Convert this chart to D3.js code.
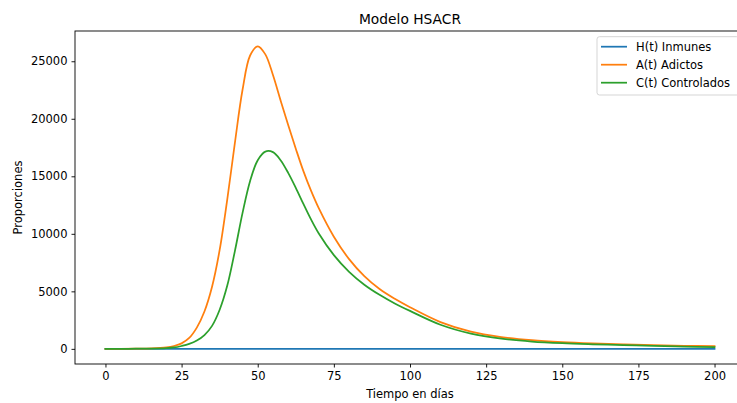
<!DOCTYPE html>
<html>
<head>
<meta charset="utf-8">
<script src="https://cdn.jsdelivr.net/npm/d3@7"></script>
<style>
html,body{margin:0;padding:0;background:#fff;overflow:hidden;}
svg{display:block;font-family:"DejaVu Sans",sans-serif;}
</style>
</head>
<body>
<svg id="chart" width="737" height="403"></svg>
<script>
const days = [0,5,10,15,20,22.5,25,27.5,30,32.5,35,37.5,40,42.5,45,47.5,50,52.5,55,57.5,60,62.5,65,67.5,70,75,80,85,90,95,100,110,120,130,140,150,160,170,180,190,200];
const inmunes = [5,5,5,5,5,5,5,5,5,5,5,5,5,5,5,5,5,5,5,5,5,5,5,5,5,5,5,5,5,5,5,5,5,5,5,5,5,5,5,5,5];
const adictos = [5,10,20,45,130,250,480,950,1850,3250,5400,8600,13000,17900,22500,25500,26300,25600,23800,21600,19450,17400,15450,13750,12250,9750,7800,6320,5200,4350,3620,2330,1500,1030,750,580,470,390,320,270,230];
const controlados = [5,8,12,20,60,120,250,430,720,1200,2000,3400,5500,8500,11800,14600,16400,17150,17100,16400,15300,14000,12600,11250,10050,8150,6700,5580,4700,3950,3300,2100,1330,890,635,490,400,330,260,200,150];
const xTicks = [0,25,50,75,100,125,150,175,200];
const yTicks = [0,5000,10000,15000,20000,25000];
const series = [
  {name:"H(t) Inmunes", values: inmunes, color:"#1f77b4"},
  {name:"A(t) Adictos", values: adictos, color:"#ff7f0e"},
  {name:"C(t) Controlados", values: controlados, color:"#2ca02c"}
];

const svg = d3.select("#chart");
const L = 75, R = 745, T = 31, B = 364;
const fs = 11.5;

const x = d3.scaleLinear().domain([-10, 210]).range([L, R]);
const y = d3.scaleLinear().domain([-1315, 27630]).range([B, T]);

const line = d3.line().x((d,i) => x(days[i])).y(d => y(d)).curve(d3.curveCatmullRom.alpha(0.5));

const plot = svg.append("g");
series.forEach(s => {
  plot.append("path").datum(s.values)
    .attr("d", line).attr("fill","none")
    .attr("stroke", s.color).attr("stroke-width", 1.75)
    .attr("stroke-linejoin","round").attr("stroke-linecap","square");
});

// axes
const xAxis = svg.append("g").attr("transform", `translate(0,${B})`)
  .call(d3.axisBottom(x).tickValues(xTicks).tickSize(3.5).tickPadding(4).tickFormat(d3.format("d")));
const yAxis = svg.append("g").attr("transform", `translate(${L},0)`)
  .call(d3.axisLeft(y).tickValues(yTicks).tickSize(3.5).tickPadding(4).tickFormat(d3.format("d")));
[xAxis, yAxis].forEach(a => {
  a.select(".domain").remove();
  a.selectAll(".tick line").attr("stroke","#000").attr("stroke-width",0.9);
  a.selectAll(".tick text").attr("fill","#000").style("font-size", fs+"px").style("font-family","DejaVu Sans");
});

// spines
svg.append("rect").attr("x",L).attr("y",T).attr("width",R-L).attr("height",B-T)
  .attr("fill","none").attr("stroke","#000").attr("stroke-width",0.9);

// title & labels
svg.append("text").attr("x",(L+R)/2).attr("y",24).attr("text-anchor","middle")
  .style("font-size","13.8px").attr("fill","#000").text("Modelo HSACR");
svg.append("text").attr("x",(L+R)/2).attr("y",398).attr("text-anchor","middle")
  .style("font-size",fs+"px").attr("fill","#000").text("Tiempo en días");
svg.append("text").attr("transform",`translate(21.5,${(T+B)/2}) rotate(-90)`).attr("text-anchor","middle")
  .style("font-size",fs+"px").attr("fill","#000").text("Proporciones");

// legend
const lg = svg.append("g");
lg.append("rect").attr("x",597).attr("y",36.7).attr("width",142).attr("height",58.3)
  .attr("rx",2.5).attr("fill","#fff").attr("fill-opacity",0.8)
  .attr("stroke","#d0d0d0").attr("stroke-width",0.9);
series.forEach((s,i) => {
  const cy = 46.7 + i*18;
  lg.append("line").attr("x1",601).attr("x2",627).attr("y1",cy).attr("y2",cy)
    .attr("stroke",s.color).attr("stroke-width",1.75);
  lg.append("text").attr("x",636).attr("y",cy+4).style("font-size",fs+"px").attr("fill","#000").text(s.name);
});
</script>
</body>
</html>
